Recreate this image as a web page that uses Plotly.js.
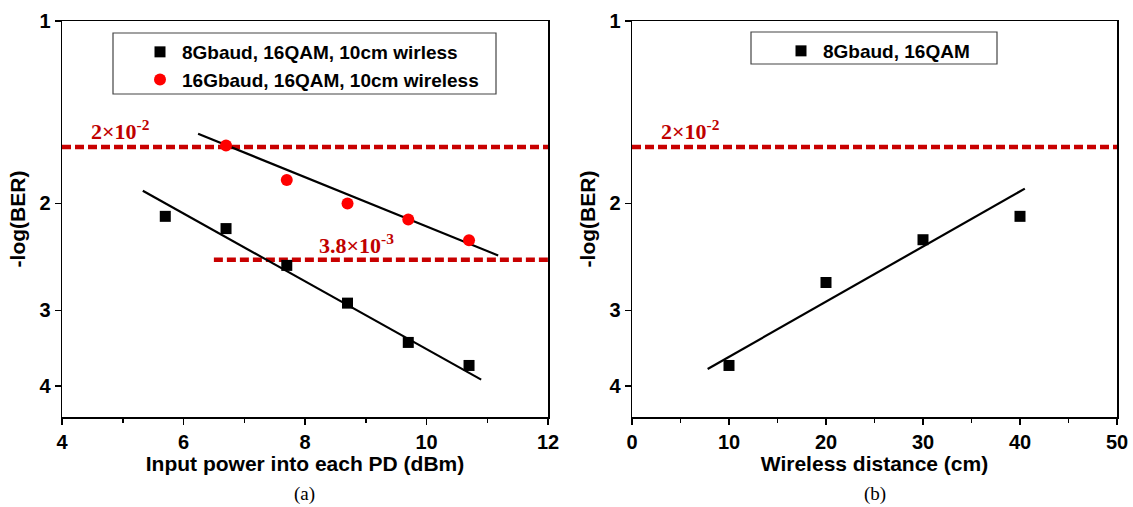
<!DOCTYPE html>
<html>
<head>
<meta charset="utf-8">
<script src="https://cdn.plot.ly/plotly-3.0.1.min.js"></script>
<style>html,body{margin:0;padding:0;background:#fff;}#chart{width:1133px;height:507px;}</style>
</head>
<body>
<div id="chart"></div>
<script>
// ---- Data ----
// (a) BER vs input power
const powerX8 = [5.7, 6.7, 7.7, 8.7, 9.7, 10.7];
const ber8G = [2.10, 2.20, 2.53, 2.92, 3.39, 3.70];
const powerX16 = [6.7, 7.7, 8.7, 9.7, 10.7];
const ber16G = [1.605, 1.83, 2.00, 2.125, 2.30];
const fit8X = [5.33, 10.90];
const fit8Y = [1.906, 3.904];
const fit16X = [6.24, 11.18];
const fit16Y = [1.535, 2.436];
const fecHighX = [4, 12];
const fecHigh = 1.613;      // 2x10^-2 threshold line (as drawn)
const fecLowX = [6.5, 12];
const fecLow = 2.476;       // 3.8x10^-3 threshold line (as drawn)
// (b) BER vs wireless distance
const distX = [10, 20, 30, 40];
const berDist = [3.70, 2.70, 2.295, 2.10];
const fitDX = [7.8, 40.5];
const fitDY = [3.75, 1.89];
const fecHighXb = [0, 50];
const yTicks = [1, 2, 3, 4];
const yTickText = ['1', '2', '3', '4'];

const W = 1133, H = 507;
const px = v => v / W;
const py = v => 1 - v / H;
const sans = 'Liberation Sans, Arial, sans-serif';
const serif = 'Liberation Serif, Times New Roman, serif';
const darkRed = 'rgb(200,0,0)';
const tickFont = {family: sans, size: 20, color: '#000', weight: 'bold'};
const titleFont = {family: sans, size: 21, color: '#000', weight: 'bold'};

const yRange = [Math.log10(4.5), 0];
const yDom = [py(417), py(21)];
const xDomA = [px(62), px(548)];
const xDomB = [px(632), px(1117)];

const traces = [
  {x: fecHighX, y: [fecHigh, fecHigh], xaxis: 'x', yaxis: 'y', mode: 'lines', showlegend: false,
   line: {color: darkRed, width: 4.5, dash: '9px,4px'}},
  {x: fecLowX, y: [fecLow, fecLow], xaxis: 'x', yaxis: 'y', mode: 'lines', showlegend: false,
   line: {color: darkRed, width: 4.5, dash: '9px,4px'}},
  {x: fit8X, y: fit8Y, xaxis: 'x', yaxis: 'y', mode: 'lines', showlegend: false, line: {color: '#000', width: 2.2}},
  {x: fit16X, y: fit16Y, xaxis: 'x', yaxis: 'y', mode: 'lines', showlegend: false, line: {color: '#000', width: 2.2}},
  {x: powerX8, y: ber8G, xaxis: 'x', yaxis: 'y', mode: 'markers', name: '8Gbaud, 16QAM, 10cm wirless',
   legend: 'legend', marker: {symbol: 'square', size: 11, color: '#000'}},
  {x: powerX16, y: ber16G, xaxis: 'x', yaxis: 'y', mode: 'markers', name: '16Gbaud, 16QAM, 10cm wireless',
   legend: 'legend', marker: {symbol: 'circle', size: 12, color: 'rgb(255,0,0)'}},
  {x: fecHighXb, y: [fecHigh, fecHigh], xaxis: 'x2', yaxis: 'y2', mode: 'lines', showlegend: false,
   line: {color: darkRed, width: 4.5, dash: '9px,4px'}},
  {x: fitDX, y: fitDY, xaxis: 'x2', yaxis: 'y2', mode: 'lines', showlegend: false, line: {color: '#000', width: 2.2}},
  {x: distX, y: berDist, xaxis: 'x2', yaxis: 'y2', mode: 'markers', name: '8Gbaud, 16QAM',
   legend: 'legend2', marker: {symbol: 'square', size: 11, color: '#000'}}
];

function xMain(dom, range, dtick, title, anchor) {
  return {domain: dom, range: range, anchor: anchor, tick0: range[0], dtick: dtick,
    ticks: 'outside', ticklen: 6, tickwidth: 1.5, tickcolor: '#000',
    minor: {dtick: dtick / 2, ticks: 'outside', ticklen: 4, tickwidth: 1.5, tickcolor: '#000'},
    showline: true, linewidth: 1.5, linecolor: '#000', mirror: true,
    showgrid: false, zeroline: false, tickfont: tickFont, automargin: false,
    title: {text: title, font: titleFont, standoff: 2}};
}
function xTop(over, range, dtick, anchor) {
  return {overlaying: over, side: 'top', range: range, anchor: anchor, tick0: range[0], dtick: dtick / 2,
    ticks: 'inside', ticklen: 5, tickwidth: 1.5, tickcolor: '#000', showticklabels: false,
    showline: false, showgrid: false, zeroline: false, automargin: false};
}
function yMain(anchor) {
  return {domain: yDom, type: 'log', range: yRange, anchor: anchor, tickmode: 'array',
    tickvals: yTicks, ticktext: yTickText, ticks: 'outside', ticklen: 6, tickwidth: 1.5, tickcolor: '#000',
    showline: true, linewidth: 1.5, linecolor: '#000', mirror: true, showgrid: false, zeroline: false,
    tickfont: tickFont, automargin: false, title: {text: '-log(BER)', font: titleFont, standoff: 8}};
}
function yRight(over, anchor) {
  return {overlaying: over, side: 'right', type: 'log', range: yRange, anchor: anchor, tickmode: 'array',
    tickvals: yTicks, ticks: 'inside', ticklen: 6, tickwidth: 1.5, tickcolor: '#000', showticklabels: false,
    showline: false, showgrid: false, zeroline: false, automargin: false};
}

const legendBase = {bgcolor: 'rgba(0,0,0,0)', borderwidth: 0, xanchor: 'left', yanchor: 'top',
  font: {family: sans, size: 19, color: '#000', weight: 'bold'}, tracegroupgap: 0, itemwidth: 34};

const redText = {family: serif, size: 22, color: 'rgb(192,0,0)', weight: 'bold'};

const layout = {
  width: W, height: H, margin: {l: 0, r: 0, t: 0, b: 0},
  paper_bgcolor: '#fff', plot_bgcolor: '#fff', showlegend: true,
  xaxis: xMain(xDomA, [4, 12], 2, 'Input power into each PD (dBm)', 'y'),
  yaxis: yMain('x'),
  xaxis2: xMain(xDomB, [0, 50], 10, 'Wireless distance (cm)', 'y2'),
  yaxis2: yMain('x2'),
  xaxis3: xTop('x', [4, 12], 2, 'y'),
  yaxis3: yRight('y', 'x'),
  xaxis4: xTop('x2', [0, 50], 10, 'y2'),
  yaxis4: yRight('y2', 'x2'),
  legend: Object.assign({}, legendBase, {x: px(138), y: py(33)}),
  legend2: Object.assign({}, legendBase, {x: px(779), y: py(32)}),
  shapes: [
    {type: 'rect', xref: 'paper', yref: 'paper', x0: px(113), x1: px(496), y0: py(94), y1: py(33),
     line: {color: '#444', width: 1.2}, fillcolor: '#fff', layer: 'below'},
    {type: 'rect', xref: 'paper', yref: 'paper', x0: px(751), x1: px(997), y0: py(64), y1: py(32),
     line: {color: '#444', width: 1.2}, fillcolor: '#fff', layer: 'below'}
  ],
  annotations: [
    {xref: 'x', yref: 'y', x: 4.45, y: Math.log10(1.605), xanchor: 'left', yanchor: 'bottom', showarrow: false,
     text: '2×10<sup>-2</sup>', font: redText},
    {xref: 'x', yref: 'y', x: 8.2, y: Math.log10(2.48), xanchor: 'left', yanchor: 'bottom', showarrow: false,
     text: '3.8×10<sup>-3</sup>', font: redText},
    {xref: 'x2', yref: 'y2', x: 2.8, y: Math.log10(1.605), xanchor: 'left', yanchor: 'bottom', showarrow: false,
     text: '2×10<sup>-2</sup>', font: redText},
    {xref: 'paper', yref: 'paper', x: px(304), y: py(494), xanchor: 'center', yanchor: 'middle', showarrow: false,
     text: '(a)', font: {family: serif, size: 19, color: '#000'}},
    {xref: 'paper', yref: 'paper', x: px(875), y: py(494), xanchor: 'center', yanchor: 'middle', showarrow: false,
     text: '(b)', font: {family: serif, size: 19, color: '#000'}}
  ]
};

Plotly.newPlot('chart', traces, layout, {displayModeBar: false, staticPlot: true});
</script>
</body>
</html>
